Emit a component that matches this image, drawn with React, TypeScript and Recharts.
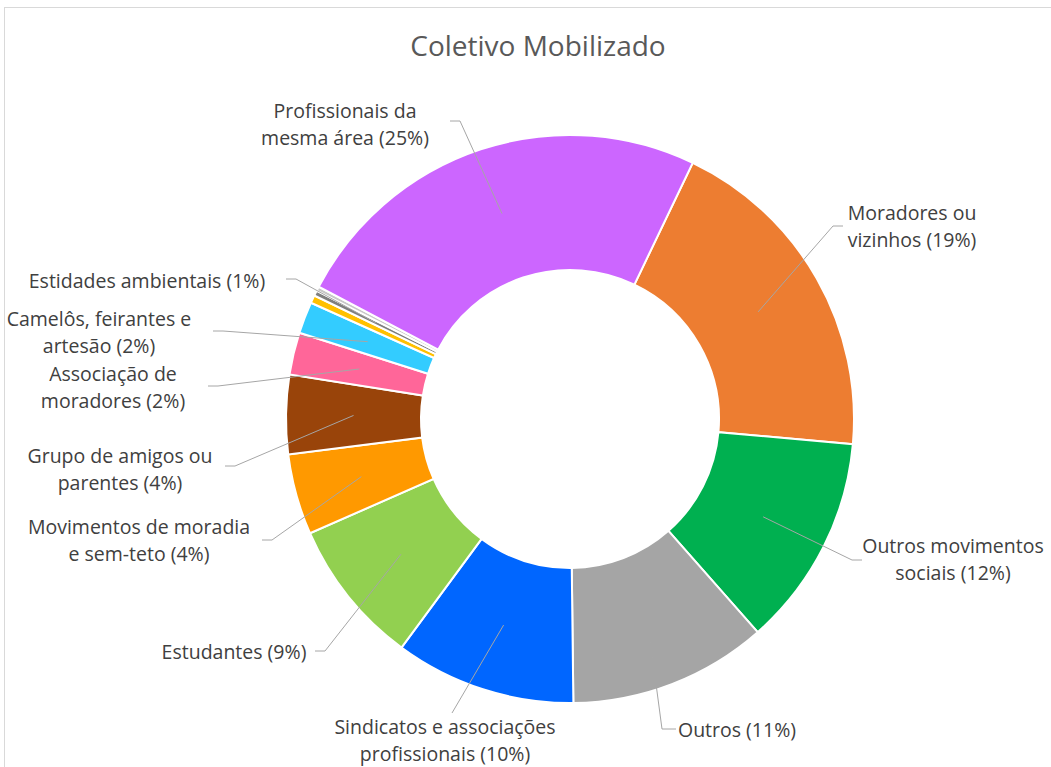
import React from 'react';
import { PieChart, Pie, Cell } from 'recharts';

const categories: string[] = [
  'Moradores ou vizinhos',
  'Outros movimentos sociais',
  'Outros',
  'Sindicatos e associações profissionais',
  'Estudantes',
  'Movimentos de moradia e sem-teto',
  'Grupo de amigos ou parentes',
  'Associação de moradores',
  'Camelôs, feirantes e artesão',
  'Não identificado (a)',
  'Estidades ambientais',
  'Não identificado (b)',
  'Profissionais da mesma área',
];

const values: number[] = [19.3, 12.1, 11.3, 10.3, 8.3, 4.6, 4.5, 2.4, 1.8, 0.45, 0.3, 0.25, 24.4];

const labelTexts: (string[] | null)[] = [
  ['Moradores ou', 'vizinhos  (19%)'],
  ['Outros movimentos', 'sociais  (12%)'],
  ['Outros (11%)'],
  ['Sindicatos  e associações', 'profissionais  (10%)'],
  ['Estudantes (9%)'],
  ['Movimentos de moradia', 'e sem-teto (4%)'],
  ['Grupo de amigos ou', 'parentes (4%)'],
  ['Associação  de', 'moradores (2%)'],
  ['Camelôs, feirantes e', 'artesão (2%)'],
  null,
  ['Estidades  ambientais (1%)'],
  null,
  ['Profissionais  da', 'mesma área (25%)'],
];

const colors: string[] = [
  '#ED7D31', '#00B050', '#A5A5A5', '#0066FF', '#92D050', '#FF9900',
  '#99440A', '#FF6699', '#33CCFF', '#FFC000', '#7F7F7F', '#C8C8C8', '#CC66FF',
];

// label layout: text center x, first line center y, leader start (sx, sy), elbow (ex, ey)
const labelLayout: ({ x: number; y: number; sx: number; sy: number; ex: number; ey: number } | null)[] = [
  { x: 912, y: 212, sx: 843, sy: 226, ex: 833, ey: 226 },
  { x: 953, y: 545, sx: 862, sy: 560, ex: 852, ey: 560 },
  { x: 737, y: 729, sx: 676, sy: 729, ex: 662, ey: 729 },
  { x: 445, y: 726, sx: 452, sy: 713, ex: 452, ey: 713 },
  { x: 234, y: 651, sx: 315, sy: 651, ex: 325, ey: 651 },
  { x: 139, y: 526, sx: 262, sy: 540, ex: 272, ey: 540 },
  { x: 120, y: 455, sx: 225, sy: 466, ex: 235, ey: 466 },
  { x: 113, y: 373, sx: 208, sy: 386, ex: 218, ey: 386 },
  { x: 99, y: 318, sx: 213, sy: 331, ex: 223, ey: 331 },
  null,
  { x: 147, y: 280, sx: 286, sy: 279, ex: 296, ey: 279 },
  null,
  { x: 345, y: 110, sx: 450, sy: 121, ex: 460, ey: 121 },
];

const data = categories.map((name, i) => ({ name, value: values[i] }));

const RAD = Math.PI / 180;
const FONT = '"Open Sans", sans-serif';

const renderLabel = (props: any) => {
  const { cx, cy, midAngle, innerRadius, outerRadius, index } = props;
  const lay = labelLayout[index];
  const lines = labelTexts[index];
  if (!lay || !lines) return null;
  const r = (innerRadius + outerRadius) / 2;
  const px = cx + r * Math.cos(-midAngle * RAD);
  const py = cy + r * Math.sin(-midAngle * RAD);
  return (
    <g key={`lbl-${index}`}>
      <polyline
        points={`${lay.sx},${lay.sy} ${lay.ex},${lay.ey} ${px},${py}`}
        fill="none"
        stroke="#A6A6A6"
        strokeWidth={1}
      />
      <text
        x={lay.x}
        y={lay.y}
        textAnchor="middle"
        fill="#404040"
        fontFamily={FONT}
        fontSize={19.5}
        fontWeight={500}
      >
        {lines.map((t, i) => (
          <tspan key={i} x={lay.x} y={lay.y + i * 27} dominantBaseline="central">
            {t}
          </tspan>
        ))}
      </text>
    </g>
  );
};

export default function App() {
  return (
    <div
      style={{
        position: 'absolute',
        left: 0,
        top: 0,
        width: 1051,
        height: 767,
        overflow: 'hidden',
        background: '#fff',
      }}
    >
      <div
        style={{
          position: 'absolute',
          left: 4,
          top: 7,
          width: 1100,
          height: 800,
          border: '1px solid #D9D9D9',
        }}
      />
      <svg
        width={1051}
        height={80}
        style={{ position: 'absolute', left: 0, top: 0 }}
      >
        <text
          x={538}
          y={45}
          textAnchor="middle"
          dominantBaseline="central"
          fill="#595959"
          fontFamily={FONT}
          fontSize={28}
        >
          Coletivo Mobilizado
        </text>
      </svg>
      <div style={{ position: 'absolute', left: 0, top: 0 }}>
        <PieChart width={1051} height={767} margin={{ top: 0, right: 0, bottom: 0, left: 0 }}>
          <Pie
            data={data}
            dataKey="value"
            nameKey="name"
            cx={570}
            cy={419}
            innerRadius={149}
            outerRadius={284}
            startAngle={64.4}
            endAngle={-295.6}
            stroke="#FFFFFF"
            strokeWidth={2}
            label={renderLabel}
            labelLine={false}
            isAnimationActive={false}
          >
            {data.map((d, i) => (
              <Cell key={d.name} fill={colors[i]} />
            ))}
          </Pie>
        </PieChart>
      </div>
    </div>
  );
}
